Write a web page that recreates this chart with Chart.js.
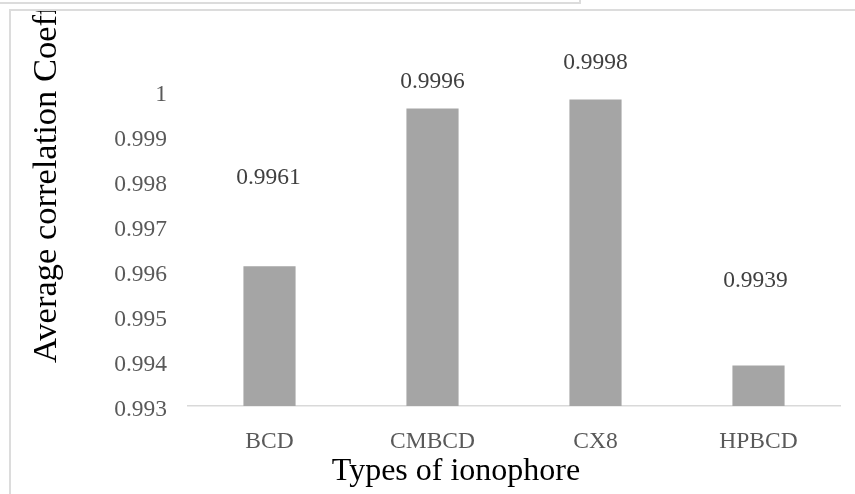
<!DOCTYPE html>
<html>
<head>
<meta charset="utf-8">
<script src="https://cdn.jsdelivr.net/npm/chart.js@4/dist/chart.umd.min.js"></script>
<style>
  html, body { margin: 0; padding: 0; background: #fff; overflow: hidden; }
  body { width: 855px; height: 494px; position: relative; }
  .back-frame {
    position: absolute; left: -5px; top: -10px; width: 584px; height: 12px;
    border-right: 2px solid #dcdcdc; border-bottom: 2px solid #dcdcdc;
  }
  .frame {
    position: absolute; left: 9px; top: 9px; width: 900px; height: 600px;
    border-left: 2px solid #dcdcdc; border-top: 2px solid #dcdcdc;
    overflow: hidden;
  }
  canvas { position: absolute; left: 0; top: 0; }
</style>
</head>
<body>
<div class="back-frame"></div>
<div class="frame"><canvas id="chart" width="844" height="483"></canvas></div>
<script>
// Ionophore types and their average correlation coefficients
const categories = ['BCD', 'CMBCD', 'CX8', 'HPBCD'];
const avgCorrelation = [0.9961, 0.9996, 0.9998, 0.9939];
const yTickValues = [0.993, 0.994, 0.995, 0.996, 0.997, 0.998, 0.999, 1];

const xTitle = 'Types of ionophore';
const yTitle = 'Average correlation Coefficient';

const SERIF = '"Liberation Serif", "Times New Roman", serif';

// Value labels sit above each bar; per-bar lift (px) and nudge (px)
const labelLift = [88, 27, 37, 85];
const labelNudge = [-1, 0, 0, -3];

const valueLabels = {
  id: 'valueLabels',
  afterDatasetsDraw(chart) {
    const ctx = chart.ctx;
    const meta = chart.getDatasetMeta(0);
    ctx.save();
    ctx.font = '23.5px ' + SERIF;
    ctx.fillStyle = '#404040';
    ctx.textAlign = 'center';
    ctx.textBaseline = 'middle';
    meta.data.forEach((bar, i) => {
      ctx.fillText(String(avgCorrelation[i]), bar.x + labelNudge[i], bar.y - labelLift[i]);
    });
    ctx.restore();
  }
};

const axisTitles = {
  id: 'axisTitles',
  afterDraw(chart) {
    const ctx = chart.ctx;
    ctx.save();
    ctx.fillStyle = '#000';
    ctx.font = '32px ' + SERIF;
    ctx.textAlign = 'center';
    ctx.textBaseline = 'middle';
    ctx.fillText(xTitle, 445, 461);

    ctx.font = '34.5px ' + SERIF;
    ctx.translate(36, 352);
    ctx.rotate(-Math.PI / 2);
    ctx.textAlign = 'left';
    ctx.fillText(yTitle, 0, 0);
    ctx.restore();
  }
};

new Chart(document.getElementById('chart'), {
  type: 'bar',
  data: {
    labels: categories,
    datasets: [{
      data: avgCorrelation,
      backgroundColor: '#a5a5a5',
      borderWidth: 0,
      categoryPercentage: 1,
      barPercentage: 0.32
    }]
  },
  options: {
    responsive: false,
    animation: false,
    devicePixelRatio: 1,
    layout: { padding: { left: 0, top: 79.5, right: 15, bottom: 0 } },
    plugins: { legend: { display: false }, tooltip: { enabled: false } },
    scales: {
      x: {
        grid: { display: false, drawTicks: false },
        border: { display: true, color: '#d9d9d9', width: 1.5 },
        ticks: {
          color: '#595959',
          font: { family: SERIF, size: 23.5 },
          padding: 22,
          maxRotation: 0,
          autoSkip: false
        },
        afterFit(scale) { scale.height = 88; }
      },
      y: {
        min: 0.993,
        max: 1,
        grid: { display: false, drawTicks: false },
        border: { display: false },
        afterBuildTicks(scale) {
          scale.ticks = yTickValues.map(v => ({ value: v }));
        },
        ticks: {
          color: '#595959',
          font: { family: SERIF, size: 23.5 },
          padding: 21,
          labelOffset: 4,
          callback: v => String(parseFloat(Number(v).toFixed(3)))
        },
        afterFit(scale) { scale.width = 177; }
      }
    }
  },
  plugins: [valueLabels, axisTitles]
});
</script>
</body>
</html>
